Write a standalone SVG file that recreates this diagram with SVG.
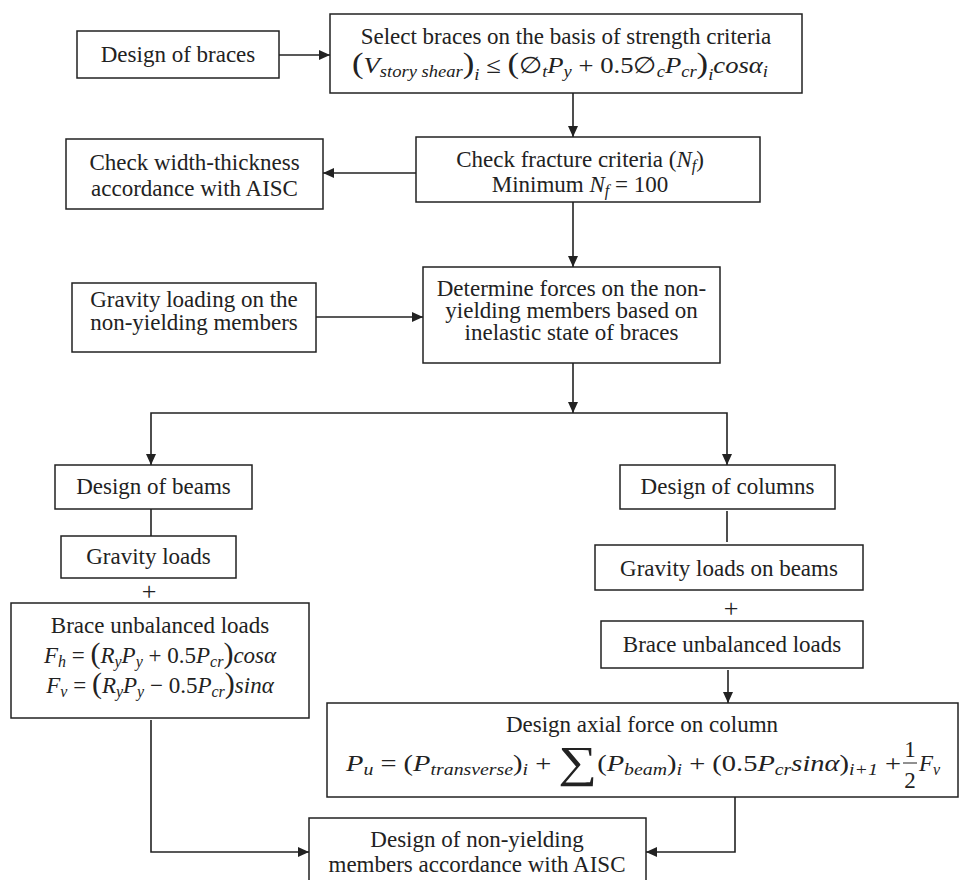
<svg xmlns="http://www.w3.org/2000/svg" width="960" height="880" viewBox="0 0 960 880">
<style>
.bg{fill:#fff}
.box{fill:#fff;stroke:#222;stroke-width:1.5}
.t{font-family:"Liberation Serif","Times New Roman",serif;font-size:23px;fill:#222}
.c{text-anchor:middle}
.i{font-style:italic}
.s{font-size:16px;font-style:italic}
.bp{font-size:30px}
.sig{font-size:44px}
.ln{fill:none;stroke:#222;stroke-width:1.6}
.ar{marker-end:url(#ah)}
</style>
<defs>
<marker id="ah" markerWidth="12" markerHeight="10" refX="11" refY="5" orient="auto" markerUnits="userSpaceOnUse">
<path d="M0,0 L11,5 L0,10 z" fill="#222"/>
</marker>
</defs>
<rect class="bg" x="0" y="0" width="960" height="880"/>

<g id="connectors">
<path class="ln ar" d="M279,55 H330"/>
<path class="ln ar" d="M573,93 V137"/>
<path class="ln ar" d="M416,173 H323"/>
<path class="ln ar" d="M573,202 V267"/>
<path class="ln ar" d="M316,317 H423"/>
<path class="ln ar" d="M573,363 V413"/>
<path class="ln ar" d="M573,413 H151 V465"/>
<path class="ln ar" d="M573,413 H727 V465"/>
<path class="ln" d="M151,509 V536"/>
<path class="ln" d="M727,511 V542"/>
<path class="ln ar" d="M728,670 V703"/>
<path class="ln ar" d="M151,720 V852 H309"/>
<path class="ln ar" d="M735,797 V852 H646"/>
</g>

<g id="design-braces">
<rect class="box" x="77" y="31" width="202" height="47"/>
<text class="t c" x="178" y="62">Design of braces</text>
</g>

<g id="select-braces">
<rect class="box" x="330" y="14" width="472" height="79"/>
<text class="t c" x="566" y="44">Select braces on the basis of strength criteria</text>
<text class="t" x="352" y="73" textLength="416" lengthAdjust="spacingAndGlyphs"><tspan class="bp">(</tspan><tspan class="i">V</tspan><tspan class="s" dy="4">story shear</tspan><tspan class="bp" dy="-4">)</tspan><tspan class="s" dy="7">i</tspan><tspan dy="-7"> ≤ </tspan><tspan class="bp">(</tspan><tspan>∅</tspan><tspan class="s" dy="4">t</tspan><tspan class="i" dy="-4">P</tspan><tspan class="s" dy="4">y</tspan><tspan dy="-4"> + 0.5∅</tspan><tspan class="s" dy="4">c</tspan><tspan class="i" dy="-4">P</tspan><tspan class="s" dy="4">cr</tspan><tspan class="bp" dy="-4">)</tspan><tspan class="s" dy="7">i</tspan><tspan class="i" dy="-7">cosα</tspan><tspan class="s" dy="4">i</tspan></text>
</g>

<g id="check-width">
<rect class="box" x="66" y="139" width="257" height="70"/>
<text class="t c" x="194.5" y="170">Check width-thickness</text>
<text class="t c" x="194.5" y="196">accordance with AISC</text>
</g>

<g id="check-fracture">
<rect class="box" x="416" y="137" width="344" height="65"/>
<text class="t c" x="580" y="167">Check fracture criteria (<tspan class="i">N</tspan><tspan class="s" dy="4">f</tspan><tspan dy="-4">)</tspan></text>
<text class="t c" x="580" y="192">Minimum <tspan class="i">N</tspan><tspan class="s" dy="4">f</tspan><tspan dy="-4"> = 100</tspan></text>
</g>

<g id="gravity-loading">
<rect class="box" x="72" y="283" width="244" height="69"/>
<text class="t c" x="194" y="307">Gravity loading on the</text>
<text class="t c" x="194" y="330">non-yielding members</text>
</g>

<g id="determine-forces">
<rect class="box" x="423" y="267" width="297" height="96"/>
<text class="t c" x="571.5" y="296">Determine forces on the non-</text>
<text class="t c" x="571.5" y="318">yielding members based on</text>
<text class="t c" x="571.5" y="340">inelastic state of braces</text>
</g>

<g id="design-beams">
<rect class="box" x="55" y="465" width="197" height="44"/>
<text class="t c" x="153.5" y="494">Design of beams</text>
</g>

<g id="gravity-loads">
<rect class="box" x="61" y="536" width="175" height="42"/>
<text class="t c" x="148.5" y="564">Gravity loads</text>
<text class="t c" x="149" y="600" style="font-size:26px">+</text>
</g>

<g id="brace-unbalanced-left">
<rect class="box" x="11" y="603" width="298" height="115"/>
<text class="t c" x="160" y="633">Brace unbalanced loads</text>
<text class="t c" x="160" y="663"><tspan class="i">F</tspan><tspan class="s" dy="4">h</tspan><tspan dy="-4"> = </tspan><tspan class="bp">(</tspan><tspan class="i">R</tspan><tspan class="s" dy="4">y</tspan><tspan class="i" dy="-4">P</tspan><tspan class="s" dy="4">y</tspan><tspan dy="-4"> + 0.5</tspan><tspan class="i">P</tspan><tspan class="s" dy="4">cr</tspan><tspan class="bp" dy="-4">)</tspan><tspan class="i">cosα</tspan></text>
<text class="t c" x="160" y="693"><tspan class="i">F</tspan><tspan class="s" dy="4">v</tspan><tspan dy="-4"> = </tspan><tspan class="bp">(</tspan><tspan class="i">R</tspan><tspan class="s" dy="4">y</tspan><tspan class="i" dy="-4">P</tspan><tspan class="s" dy="4">y</tspan><tspan dy="-4"> − 0.5</tspan><tspan class="i">P</tspan><tspan class="s" dy="4">cr</tspan><tspan class="bp" dy="-4">)</tspan><tspan class="i">sinα</tspan></text>
</g>

<g id="design-columns">
<rect class="box" x="620" y="465" width="215" height="44"/>
<text class="t c" x="727.5" y="494">Design of columns</text>
</g>

<g id="gravity-loads-beams">
<rect class="box" x="595" y="545" width="268" height="45"/>
<text class="t c" x="729" y="576">Gravity loads on beams</text>
<text class="t c" x="731" y="617" style="font-size:26px">+</text>
</g>

<g id="brace-unbalanced-right">
<rect class="box" x="601" y="621" width="262" height="47"/>
<text class="t c" x="732" y="652">Brace unbalanced loads</text>
</g>

<g id="axial-force">
<rect class="box" x="327" y="703" width="631" height="94"/>
<text class="t c" x="642" y="732">Design axial force on column</text>
<text class="t" x="346" y="771" textLength="555" lengthAdjust="spacingAndGlyphs"><tspan class="i">P</tspan><tspan class="s" dy="4">u</tspan><tspan dy="-4"> = (</tspan><tspan class="i">P</tspan><tspan class="s" dy="4">transverse</tspan><tspan dy="-4">)</tspan><tspan class="s" dy="4">i</tspan><tspan dy="-4"> + </tspan><tspan class="sig" dy="6">∑</tspan><tspan dy="-6">(</tspan><tspan class="i">P</tspan><tspan class="s" dy="4">beam</tspan><tspan dy="-4">)</tspan><tspan class="s" dy="4">i</tspan><tspan dy="-4"> + (0.5</tspan><tspan class="i">P</tspan><tspan class="s" dy="4">cr</tspan><tspan class="i" dy="-4">sinα</tspan><tspan>)</tspan><tspan class="s" dy="4">i+1</tspan><tspan dy="-4"> +</tspan></text>
<text class="t c" x="910" y="757">1</text>
<line x1="903" y1="763" x2="917" y2="763" stroke="#222" stroke-width="1"/>
<text class="t c" x="910" y="788">2</text>
<text class="t" x="919" y="771"><tspan class="i">F</tspan><tspan class="s" dy="4">v</tspan></text>
</g>

<g id="design-non-yielding">
<rect class="box" x="309" y="818" width="337" height="72"/>
<text class="t c" x="477" y="847">Design of non-yielding</text>
<text class="t c" x="477" y="872">members accordance with AISC</text>
</g>
</svg>
